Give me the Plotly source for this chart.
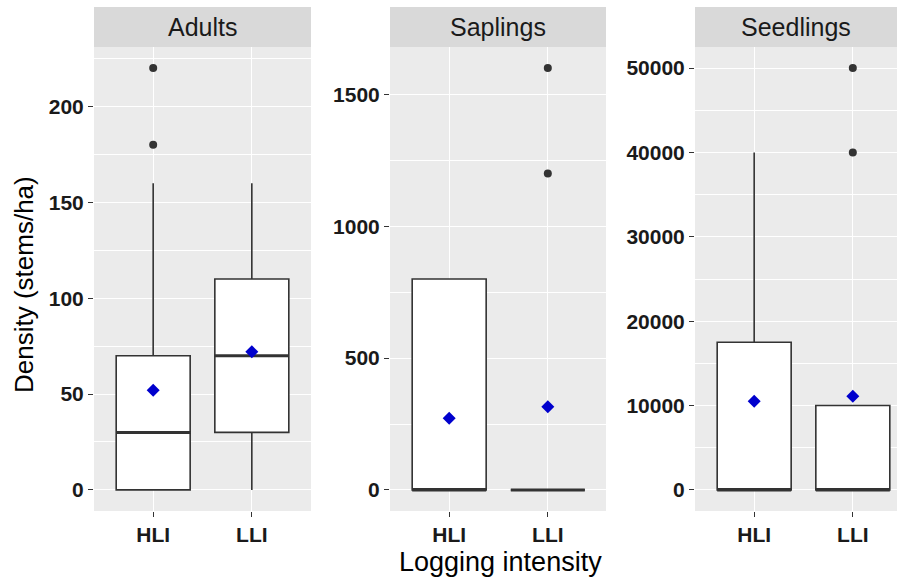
import plotly.graph_objects as go

W, H = 897, 579

categories = ["HLI", "LLI"]
panels = ["Adults", "Saplings", "Seedlings"]

# box statistics per panel (HLI, LLI)
q1 = {"Adults": [0, 30], "Saplings": [0, 0], "Seedlings": [0, 0]}
median = {"Adults": [30, 70], "Saplings": [0, 0], "Seedlings": [0, 0]}
q3 = {"Adults": [70, 110], "Saplings": [800, 0], "Seedlings": [17500, 10000]}
lower = {"Adults": [0, 0], "Saplings": [0, 0], "Seedlings": [0, 0]}
upper = {"Adults": [160, 160], "Saplings": [800, 0], "Seedlings": [40000, 10000]}
means = {"Adults": [52, 72], "Saplings": [272, 315], "Seedlings": [10500, 11100]}
outliers = {
    "Adults": [[180, 220], []],
    "Saplings": [[], [1200, 1600]],
    "Seedlings": [[], [40000, 50000]],
}

y_ranges = {"Adults": [-11, 231], "Saplings": [-80, 1680], "Seedlings": [-2500, 52500]}
y_major = {"Adults": 50, "Saplings": 500, "Seedlings": 10000}

# layout geometry (pixels)
px_left = [94, 390, 695]
px_right = [311, 606, 897]
unit_px = 217 / 2.2
plot_top, plot_bot = 47, 511
strip_top = 7

box_w = 0.75
line_col = "#333333"

fig = go.Figure()
shapes = []
annotations = []

for i, p in enumerate(panels):
    xa = "x" if i == 0 else f"x{i+1}"
    ya = "y" if i == 0 else f"y{i+1}"
    xs = list(range(len(categories)))
    fig.add_trace(go.Box(
        x=xs, q1=q1[p], median=median[p], q3=q3[p],
        lowerfence=lower[p], upperfence=upper[p],
        width=box_w, whiskerwidth=0, fillcolor="white",
        line=dict(color=line_col, width=1.6),
        boxpoints=False, hoverinfo="skip",
        xaxis=xa, yaxis=ya, showlegend=False,
    ))
    # thicker median lines
    for j, m in enumerate(median[p]):
        fig.add_trace(go.Scatter(
            x=[xs[j] - box_w / 2, xs[j] + box_w / 2], y=[m, m],
            mode="lines", line=dict(color=line_col, width=3),
            xaxis=xa, yaxis=ya, showlegend=False, hoverinfo="skip",
        ))
    # outliers
    ox, oy = [], []
    for j, vals in enumerate(outliers[p]):
        for v in vals:
            ox.append(xs[j]); oy.append(v)
    fig.add_trace(go.Scatter(
        x=ox, y=oy, mode="markers",
        marker=dict(color=line_col, size=8, symbol="circle"),
        xaxis=xa, yaxis=ya, showlegend=False, hoverinfo="skip",
    ))
    # means
    fig.add_trace(go.Scatter(
        x=xs, y=means[p], mode="markers",
        marker=dict(color="#0000CD", size=10, symbol="diamond"),
        xaxis=xa, yaxis=ya, showlegend=False, hoverinfo="skip",
    ))

    x0 = px_left[i] / W
    x1 = px_right[i] / W
    xmax = -0.6 + (px_right[i] - px_left[i]) / unit_px
    dom_y = [(H - plot_bot) / H, (H - plot_top) / H]
    axis_common = dict(
        showline=False, zeroline=False, ticks="outside", ticklen=5,
        tickcolor=line_col, tickwidth=1,
        tickfont=dict(family="Liberation Sans", size=21, color="#1a1a1a", weight="bold"),
        gridcolor="white", gridwidth=1.3,
    )
    fig.update_layout(**{
        ("xaxis" if i == 0 else f"xaxis{i+1}"): dict(
            domain=[x0, x1], range=[-0.6, xmax], tickvals=xs, ticktext=categories,
            anchor=ya, **axis_common),
        ("yaxis" if i == 0 else f"yaxis{i+1}"): dict(
            domain=dom_y, range=y_ranges[p], dtick=y_major[p], tick0=0,
            anchor=xa, tickformat="d",
            minor=dict(dtick=y_major[p] / 2, tick0=0, showgrid=True,
                       gridcolor="white", gridwidth=0.6, ticks=""),
            **axis_common),
    })
    # strip
    shapes.append(dict(type="rect", xref="paper", yref="paper",
                       x0=x0, x1=x1, y0=(H - plot_top) / H, y1=(H - strip_top) / H,
                       fillcolor="#D9D9D9", line=dict(width=0), layer="below"))
    annotations.append(dict(text=p, xref="paper", yref="paper",
                            x=(x0 + x1) / 2, y=(H - (plot_top + strip_top) / 2) / H,
                            showarrow=False, xanchor="center", yanchor="middle",
                            font=dict(family="Liberation Sans", size=25, color="#1a1a1a")))

annotations.append(dict(text="Density (stems/ha)", xref="paper", yref="paper",
                        x=24 / W, y=(H - 285) / H, textangle=-90, showarrow=False,
                        xanchor="center", yanchor="middle",
                        font=dict(family="Liberation Sans", size=26, color="#000000")))
annotations.append(dict(text="Logging intensity", xref="paper", yref="paper",
                        x=501 / W, y=(H - 562) / H, showarrow=False,
                        xanchor="center", yanchor="middle",
                        font=dict(family="Liberation Sans", size=27, color="#000000")))

fig.update_layout(
    width=W, height=H, margin=dict(l=0, r=0, t=0, b=0),
    paper_bgcolor="white", plot_bgcolor="#EBEBEB",
    shapes=shapes, annotations=annotations,
)

fig.write_html("out.html")
